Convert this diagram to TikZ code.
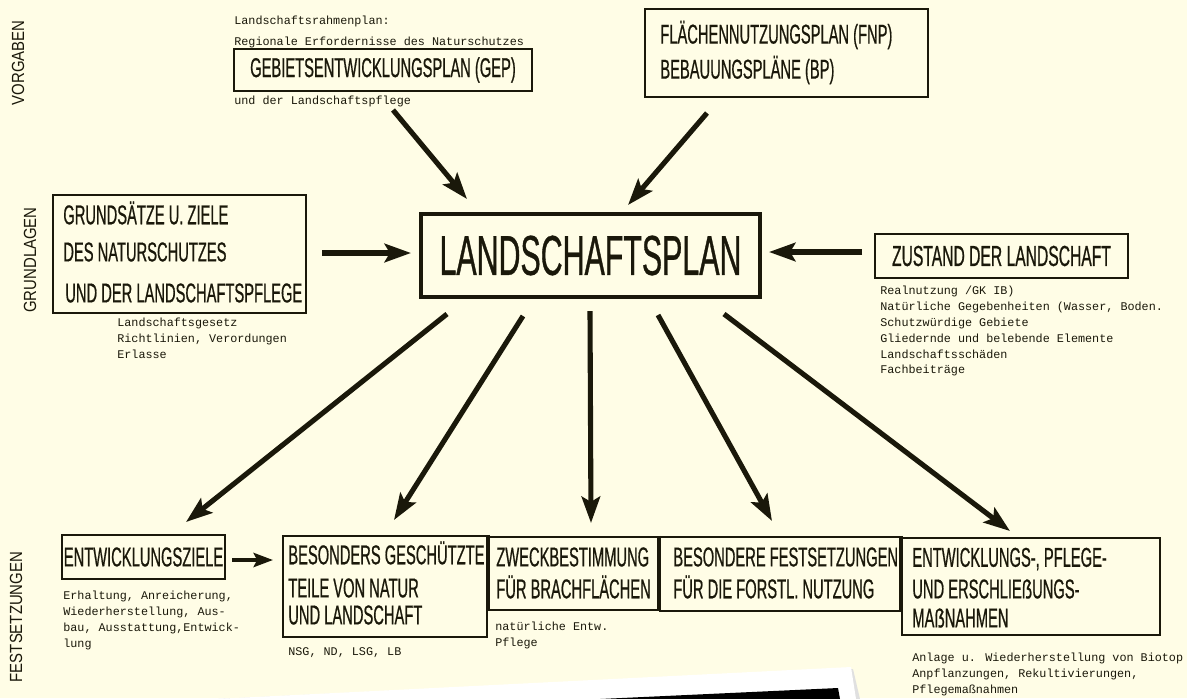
\documentclass[tikz,border=0pt]{standalone}
\usepackage{fontspec}
\usetikzlibrary{arrows.meta}
\newfontfamily\cnd[FakeStretch=0.54,FakeBold=0.6]{Liberation Sans}
\newfontfamily\sidefont[FakeStretch=0.85]{Liberation Sans}
\newfontfamily\tw{Liberation Mono}
\definecolor{paper}{RGB}{255,253,230}
\definecolor{ink}{RGB}{26,24,10}
\def\px{0.56906pt}
\tikzset{
  box/.style={draw=ink, line width=1.2pt, inner sep=0pt, text=ink},
  big/.style={font=\cnd\fontsize{15.5}{18}\selectfont},
  lbl/.style={big, text=ink, anchor=west, inner sep=0pt},
  note/.style={font=\tw\fontsize{6.7}{9}\selectfont, text=ink, inner sep=0pt, anchor=west, align=left},
  side/.style={font=\sidefont\fontsize{10}{12}\selectfont, text=ink, rotate=90, inner sep=0pt},
  arr/.style={draw=ink, line width=2.9pt, -{Stealth[length=15pt, width=10.5pt, inset=3pt]}},
}
\begin{document}
\begin{tikzpicture}[x=0.02cm, y=-0.02cm]
\fill[paper] (0,0) rectangle (1187,698);
\useasboundingbox (0,0) rectangle (1187,698);

% side labels
\node[side] (lv) at (18,63) {VORGABEN};
\node[side] (lg) at (30,260) {GRUNDLAGEN};
\node[side] (lf) at (16,617) {FESTSETZUNGEN};

% GEP
\node[note] (gepa) at (234,21) {Landschaftsrahmenplan:};
\node[note] (gepb) at (234,42) {Regionale Erfordernisse des Naturschutzes};
\node[box, big, minimum width=298*\px, minimum height=42*\px] (gep) at (383,70) {GEBIETSENTWICKLUNGSPLAN (GEP)};
\node[note] (gepc) at (234,101) {und der Landschaftspflege};

% FNP
\node[box, minimum width=283*\px, minimum height=88*\px] (fnp) at (786.5,53) {};
\node[lbl] (fnp1) at (660,35) {FLÄCHENNUTZUNGSPLAN (FNP)};
\node[lbl] (fnp2) at (660,70) {BEBAUUNGSPLÄNE (BP)};

% Grundsaetze
\node[box, minimum width=253*\px, minimum height=118*\px] (gr) at (179.5,254) {};
\node[lbl] (gr1) at (63,213) {GRUNDSÄTZE U. ZIELE};
\node[lbl] (gr2) at (63,252) {DES NATURSCHUTZES};
\node[lbl] (gr3) at (65,293) {UND DER LANDSCHAFTSPFLEGE};
\node[note, anchor=north west] (grn) at (117,318) {Landschaftsgesetz\\Richtlinien, Verordungen\\Erlasse};

% Landschaftsplan
\node[draw=ink, line width=1.8pt, text=ink, inner sep=0pt, minimum width=339*\px, minimum height=83*\px,
      font=\cnd\fontsize{32}{36}\selectfont] (lp) at (590.5,255.5) {LANDSCHAFTSPLAN};

% Zustand
\node[box, minimum width=253*\px, minimum height=44*\px, font=\cnd\fontsize{16.5}{19}\selectfont] (zu) at (1001.5,256) {ZUSTAND DER LANDSCHAFT};
\node[note, anchor=north west] (zun) at (880,286) {Realnutzung /GK IB)\\Natürliche Gegebenheiten (Wasser, Boden.\\Schutzwürdige Gebiete\\Gliedernde und belebende Elemente\\Landschaftsschäden\\Fachbeiträge};

% bottom row
\node[box, big, minimum width=163*\px, minimum height=44*\px] (ez) at (143.5,557) {ENTWICKLUNGSZIELE};
\node[note, anchor=north west] (ezn) at (63,591) {Erhaltung, Anreicherung,\\Wiederherstellung, Aus-\\bau, Ausstattung,Entwick-\\lung};

\node[box, minimum width=204*\px, minimum height=101*\px] (bg) at (385,586.5) {};
\node[lbl] (bg1) at (288,553) {BESONDERS GESCHÜTZTE};
\node[lbl] (bg2) at (288,588) {TEILE VON NATUR};
\node[lbl] (bg3) at (288,615) {UND LANDSCHAFT};
\node[note] (bgn) at (288,653) {NSG, ND, LSG, LB};

\node[box, minimum width=170*\px, minimum height=73*\px] (zw) at (573,573.5) {};
\node[lbl] (zw1) at (496,557) {ZWECKBESTIMMUNG};
\node[lbl] (zw2) at (496,587) {FÜR BRACHFLÄCHEN};
\node[note, anchor=north west] (zwn) at (495,622) {natürliche Entw.\\Pflege};

\node[box, minimum width=240*\px, minimum height=74*\px] (bf) at (780,574) {};
\node[lbl] (bf1) at (673,557) {BESONDERE FESTSETZUNGEN};
\node[lbl] (bf2) at (673,587) {FÜR DIE FORSTL. NUTZUNG};

\node[box, minimum width=258*\px, minimum height=97*\px] (em) at (1031,586.5) {};
\node[lbl] (em1) at (912,559) {ENTWICKLUNGS-, PFLEGE-};
\node[lbl] (em2) at (912,589) {UND ERSCHLIEẞUNGS-};
\node[lbl] (em3) at (912,618) {MAẞNAHMEN};
\node[note, anchor=north west] (emn) at (912,653) {Anlage u. Wiederherstellung von Biotop\\Anpflanzungen, Rekultivierungen,\\Pflegemaßnahmen};

% thick dividers between adjacent bottom boxes
\draw[ink, line width=2.4pt] (bg.north east) -- (bg.north east |- zw.south);
\draw[ink, line width=2.4pt] (zw.north east) -- (zw.south east);
\draw[ink, line width=2.4pt] (bf.north east) -- (bf.south east);

% connector end points
\coordinate (g-s) at (393,110);  \coordinate (g-e) at (467,199);
\coordinate (f-s) at (707,113);  \coordinate (f-e) at (628,205);
\coordinate (r-s) at (322,253);  \coordinate (r-e) at (411,253);
\coordinate (z-s) at (862,252);  \coordinate (z-e) at (769,252);
\coordinate (a-s) at (447,314);  \coordinate (a-e) at (186,522);
\coordinate (b-s) at (523,316);  \coordinate (b-e) at (394,520);
\coordinate (c-s) at (590,311);  \coordinate (c-e) at (591,523);
\coordinate (d-s) at (658,315);  \coordinate (d-e) at (772,521);
\coordinate (e-s) at (724,314);  \coordinate (e-e) at (1010,531);
\coordinate (h-s) at (232,560);  \coordinate (h-e) at (273,560);

\draw[arr] (g-s) -- (g-e);
\draw[arr] (f-s) -- (f-e);
\draw[arr] (r-s) -- (r-e);
\draw[arr] (z-s) -- (z-e);
\draw[arr] (a-s) -- (a-e);
\draw[arr] (b-s) -- (b-e);
\draw[arr] (c-s) -- (c-e);
\draw[arr] (d-s) -- (d-e);
\draw[arr] (e-s) -- (e-e);
\draw[draw=ink, line width=2.4pt, -{Stealth[length=11pt, width=8pt, inset=2pt]}] (h-s) -- (h-e);

% photo corner at the bottom
\fill[black!12] (218,699) -- (853,669) -- (860,699) -- cycle;
\fill[white] (215,699) -- (851,667) -- (856,699) -- cycle;
\fill[black] (600,699) -- (838,688) -- (840,699) -- cycle;
\end{tikzpicture}
\end{document}
